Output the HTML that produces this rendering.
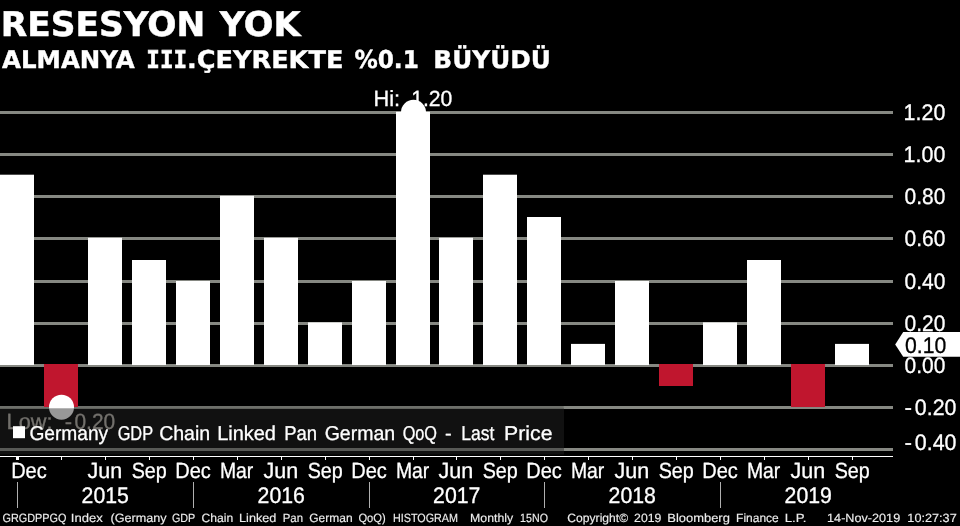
<!DOCTYPE html>
<html lang="tr"><head><meta charset="utf-8"><title>RESESYON YOK</title>
<style>
html,body{margin:0;padding:0;background:#000;}
body{width:960px;height:526px;overflow:hidden;}
svg{display:block}
text{white-space:pre;text-rendering:geometricPrecision}
svg{will-change:transform}
</style></head><body>
<svg width="960" height="526" viewBox="0 0 960 526">
<rect width="960" height="526" fill="#000"/>
<rect x="0" y="111" width="893" height="3" fill="#868882"/>
<rect x="0" y="153" width="893" height="3" fill="#868882"/>
<rect x="0" y="195" width="893" height="3" fill="#868882"/>
<rect x="0" y="237" width="893" height="3" fill="#868882"/>
<rect x="0" y="280" width="893" height="3" fill="#868882"/>
<rect x="0" y="322" width="893" height="3" fill="#868882"/>
<rect x="0" y="364" width="893" height="3" fill="#868882"/>
<rect x="0" y="406" width="893" height="3" fill="#868882"/>
<rect x="0" y="448" width="893" height="3" fill="#868882"/>
<rect x="0" y="406" width="563.7" height="2.3" fill="#000" fill-opacity="0.18"/>
<text x="0.72" y="36.0" textLength="204.62" lengthAdjust="spacingAndGlyphs" style="font:bold 34px 'DejaVu Sans',sans-serif;fill:#fff;stroke:#fff;stroke-width:0.5px">RESESYON</text>
<text x="219.78" y="36.0" textLength="80.78" lengthAdjust="spacingAndGlyphs" style="font:bold 34px 'DejaVu Sans',sans-serif;fill:#fff;stroke:#fff;stroke-width:0.5px">YOK</text>
<text x="2.10" y="68.3" textLength="132.46" lengthAdjust="spacingAndGlyphs" style="font:bold 24.5px 'DejaVu Sans',sans-serif;fill:#fff;stroke:#fff;stroke-width:0.4px">ALMANYA</text>
<text x="146.36" y="68.3" textLength="40.75" lengthAdjust="spacingAndGlyphs" style="font:bold 24.5px 'DejaVu Sans Mono',sans-serif;fill:#fff;stroke:#fff;stroke-width:0.6px">III</text>
<text x="186.91" y="68.3" textLength="156.50" lengthAdjust="spacingAndGlyphs" style="font:bold 24.5px 'DejaVu Sans',sans-serif;fill:#fff;stroke:#fff;stroke-width:0.4px">.ÇEYREKTE</text>
<text x="354.40" y="68.3" textLength="64.49" lengthAdjust="spacingAndGlyphs" style="font:bold 24.5px 'DejaVu Sans',sans-serif;fill:#fff;stroke:#fff;stroke-width:0.4px">%0.1</text>
<text x="433.38" y="68.3" textLength="117.43" lengthAdjust="spacingAndGlyphs" style="font:bold 24.5px 'DejaVu Sans',sans-serif;fill:#fff;stroke:#fff;stroke-width:0.4px">BÜYÜDÜ</text>
<text x="373.56" y="105.7" textLength="26.59" lengthAdjust="spacingAndGlyphs" style="font:22px 'Liberation Sans',sans-serif;fill:#fff;stroke:#fff;stroke-width:0.3px">Hi:</text>
<text x="411.19" y="105.7" textLength="41.19" lengthAdjust="spacingAndGlyphs" style="font:22px 'Liberation Sans',sans-serif;fill:#fff;stroke:#fff;stroke-width:0.3px">1.20</text>
<text x="6.56" y="429.4" textLength="45.89" lengthAdjust="spacingAndGlyphs" style="font:22px 'Liberation Sans',sans-serif;fill:#b8b4ac;stroke:#b8b4ac;stroke-width:0.3px">Low:</text>
<text x="64.80" y="429.4" style="font:22px 'Liberation Sans',sans-serif;fill:#b8b4ac;stroke:#b8b4ac;stroke-width:0.3px">-</text>
<text x="74.45" y="429.4" textLength="40.72" lengthAdjust="spacingAndGlyphs" style="font:22px 'Liberation Sans',sans-serif;fill:#b8b4ac;stroke:#b8b4ac;stroke-width:0.3px">0.20</text>
<rect x="0" y="174.7" width="34" height="190.3" fill="#fff"/>
<rect x="44" y="364" width="34" height="43.0" fill="#c0162e"/>
<rect x="88" y="237.8" width="34" height="127.2" fill="#fff"/>
<rect x="132" y="260.0" width="34" height="105.0" fill="#fff"/>
<rect x="176" y="281.0" width="34" height="84.0" fill="#fff"/>
<rect x="220" y="195.8" width="34" height="169.2" fill="#fff"/>
<rect x="264" y="237.8" width="34" height="127.2" fill="#fff"/>
<rect x="308" y="322.4" width="34" height="42.6" fill="#fff"/>
<rect x="352" y="281.0" width="34" height="84.0" fill="#fff"/>
<rect x="396" y="111.8" width="34" height="253.2" fill="#fff"/>
<rect x="439" y="237.8" width="34" height="127.2" fill="#fff"/>
<rect x="483" y="174.7" width="34" height="190.3" fill="#fff"/>
<rect x="527" y="217.0" width="34" height="148.0" fill="#fff"/>
<rect x="571" y="343.9" width="34" height="21.1" fill="#fff"/>
<rect x="615" y="281.0" width="34" height="84.0" fill="#fff"/>
<rect x="659" y="364" width="34" height="22.0" fill="#c0162e"/>
<rect x="703" y="322.4" width="34" height="42.6" fill="#fff"/>
<rect x="747" y="260.0" width="34" height="105.0" fill="#fff"/>
<rect x="791" y="364" width="34" height="43.0" fill="#c0162e"/>
<rect x="835" y="343.9" width="34" height="21.1" fill="#fff"/>
<circle cx="413.5" cy="112.3" r="12.5" fill="#fff"/>
<circle cx="61.5" cy="407.2" r="12.5" fill="#fff"/>
<rect x="0" y="408.3" width="564" height="46.2" fill="#242424" fill-opacity="0.47"/>
<rect x="13" y="426.2" width="12" height="12" fill="#fff"/>
<polygon points="895.2,344.4 903.2,332 960,332 960,356.8 903.2,356.8" fill="#fff"/>
<rect x="0" y="456" width="893" height="1" fill="#fff"/>
<rect x="16" y="456" width="3" height="4" fill="#fff"/>
<rect x="61" y="457" width="1" height="3" fill="#fff"/>
<rect x="105" y="457" width="1" height="3" fill="#fff"/>
<rect x="149" y="457" width="1" height="3" fill="#fff"/>
<rect x="193" y="457" width="1" height="3" fill="#fff"/>
<rect x="237" y="457" width="1" height="3" fill="#fff"/>
<rect x="281" y="457" width="1" height="3" fill="#fff"/>
<rect x="325" y="457" width="1" height="3" fill="#fff"/>
<rect x="369" y="457" width="1" height="3" fill="#fff"/>
<rect x="413" y="457" width="1" height="3" fill="#fff"/>
<rect x="456" y="457" width="1" height="3" fill="#fff"/>
<rect x="500" y="457" width="1" height="3" fill="#fff"/>
<rect x="544" y="457" width="1" height="3" fill="#fff"/>
<rect x="588" y="457" width="1" height="3" fill="#fff"/>
<rect x="632" y="457" width="1" height="3" fill="#fff"/>
<rect x="676" y="457" width="1" height="3" fill="#fff"/>
<rect x="720" y="457" width="1" height="3" fill="#fff"/>
<rect x="764" y="457" width="1" height="3" fill="#fff"/>
<rect x="808" y="457" width="1" height="3" fill="#fff"/>
<rect x="852" y="457" width="1" height="3" fill="#fff"/>
<rect x="17" y="482" width="1" height="26" fill="#b0b0b0"/>
<rect x="193" y="482" width="1" height="26" fill="#b0b0b0"/>
<rect x="369" y="482" width="1" height="26" fill="#b0b0b0"/>
<rect x="544" y="482" width="1" height="26" fill="#b0b0b0"/>
<rect x="720" y="482" width="1" height="26" fill="#b0b0b0"/>
<text x="29.39" y="440.1" textLength="78.76" lengthAdjust="spacingAndGlyphs" style="font:20px 'Liberation Sans',sans-serif;fill:#fff;stroke:#fff;stroke-width:0.3px">Germany</text>
<text x="117.63" y="440.1" textLength="35.50" lengthAdjust="spacingAndGlyphs" style="font:20px 'Liberation Sans',sans-serif;fill:#fff;stroke:#fff;stroke-width:0.3px">GDP</text>
<text x="159.17" y="440.1" textLength="51.02" lengthAdjust="spacingAndGlyphs" style="font:20px 'Liberation Sans',sans-serif;fill:#fff;stroke:#fff;stroke-width:0.3px">Chain</text>
<text x="217.15" y="440.1" textLength="58.82" lengthAdjust="spacingAndGlyphs" style="font:20px 'Liberation Sans',sans-serif;fill:#fff;stroke:#fff;stroke-width:0.3px">Linked</text>
<text x="284.23" y="440.1" textLength="32.91" lengthAdjust="spacingAndGlyphs" style="font:20px 'Liberation Sans',sans-serif;fill:#fff;stroke:#fff;stroke-width:0.3px">Pan</text>
<text x="324.67" y="440.1" textLength="70.52" lengthAdjust="spacingAndGlyphs" style="font:20px 'Liberation Sans',sans-serif;fill:#fff;stroke:#fff;stroke-width:0.3px">German</text>
<text x="402.65" y="440.1" textLength="34.40" lengthAdjust="spacingAndGlyphs" style="font:20px 'Liberation Sans',sans-serif;fill:#fff;stroke:#fff;stroke-width:0.3px">QoQ</text>
<text x="445.00" y="440.1" style="font:20px 'Liberation Sans',sans-serif;fill:#fff;stroke:#fff;stroke-width:0.3px">-</text>
<text x="461.27" y="440.1" textLength="33.19" lengthAdjust="spacingAndGlyphs" style="font:20px 'Liberation Sans',sans-serif;fill:#fff;stroke:#fff;stroke-width:0.3px">Last</text>
<text x="504.09" y="440.1" textLength="48.39" lengthAdjust="spacingAndGlyphs" style="font:20px 'Liberation Sans',sans-serif;fill:#fff;stroke:#fff;stroke-width:0.3px">Price</text>
<text x="2.58" y="522.0" textLength="63.90" lengthAdjust="spacingAndGlyphs" style="font:12px 'Liberation Sans',sans-serif;fill:#ececec;stroke:#ececec;stroke-width:0.15px">GRGDPPGQ</text>
<text x="70.88" y="522.0" textLength="32.04" lengthAdjust="spacingAndGlyphs" style="font:12px 'Liberation Sans',sans-serif;fill:#ececec;stroke:#ececec;stroke-width:0.15px">Index</text>
<text x="110.48" y="522.0" textLength="56.15" lengthAdjust="spacingAndGlyphs" style="font:12px 'Liberation Sans',sans-serif;fill:#ececec;stroke:#ececec;stroke-width:0.15px">(Germany</text>
<text x="171.97" y="522.0" textLength="23.35" lengthAdjust="spacingAndGlyphs" style="font:12px 'Liberation Sans',sans-serif;fill:#ececec;stroke:#ececec;stroke-width:0.15px">GDP</text>
<text x="201.57" y="522.0" textLength="31.73" lengthAdjust="spacingAndGlyphs" style="font:12px 'Liberation Sans',sans-serif;fill:#ececec;stroke:#ececec;stroke-width:0.15px">Chain</text>
<text x="239.07" y="522.0" textLength="37.36" lengthAdjust="spacingAndGlyphs" style="font:12px 'Liberation Sans',sans-serif;fill:#ececec;stroke:#ececec;stroke-width:0.15px">Linked</text>
<text x="282.77" y="522.0" textLength="20.29" lengthAdjust="spacingAndGlyphs" style="font:12px 'Liberation Sans',sans-serif;fill:#ececec;stroke:#ececec;stroke-width:0.15px">Pan</text>
<text x="309.27" y="522.0" textLength="43.32" lengthAdjust="spacingAndGlyphs" style="font:12px 'Liberation Sans',sans-serif;fill:#ececec;stroke:#ececec;stroke-width:0.15px">German</text>
<text x="358.38" y="522.0" textLength="27.35" lengthAdjust="spacingAndGlyphs" style="font:12px 'Liberation Sans',sans-serif;fill:#ececec;stroke:#ececec;stroke-width:0.15px">QoQ)</text>
<text x="392.97" y="522.0" textLength="65.05" lengthAdjust="spacingAndGlyphs" style="font:12px 'Liberation Sans',sans-serif;fill:#ececec;stroke:#ececec;stroke-width:0.15px">HISTOGRAM</text>
<text x="470.07" y="522.0" textLength="43.15" lengthAdjust="spacingAndGlyphs" style="font:12px 'Liberation Sans',sans-serif;fill:#ececec;stroke:#ececec;stroke-width:0.15px">Monthly</text>
<text x="520.08" y="522.0" textLength="27.85" lengthAdjust="spacingAndGlyphs" style="font:12px 'Liberation Sans',sans-serif;fill:#ececec;stroke:#ececec;stroke-width:0.15px">15NO</text>
<text x="567.38" y="522.0" textLength="60.69" lengthAdjust="spacingAndGlyphs" style="font:12px 'Liberation Sans',sans-serif;fill:#ececec;stroke:#ececec;stroke-width:0.15px">Copyright©</text>
<text x="634.08" y="522.0" textLength="27.22" lengthAdjust="spacingAndGlyphs" style="font:12px 'Liberation Sans',sans-serif;fill:#ececec;stroke:#ececec;stroke-width:0.15px">2019</text>
<text x="667.38" y="522.0" textLength="62.48" lengthAdjust="spacingAndGlyphs" style="font:12px 'Liberation Sans',sans-serif;fill:#ececec;stroke:#ececec;stroke-width:0.15px">Bloomberg</text>
<text x="736.08" y="522.0" textLength="42.62" lengthAdjust="spacingAndGlyphs" style="font:12px 'Liberation Sans',sans-serif;fill:#ececec;stroke:#ececec;stroke-width:0.15px">Finance</text>
<text x="784.68" y="522.0" textLength="21.82" lengthAdjust="spacingAndGlyphs" style="font:12px 'Liberation Sans',sans-serif;fill:#ececec;stroke:#ececec;stroke-width:0.15px">L.P.</text>
<text x="827.08" y="522.0" textLength="73.11" lengthAdjust="spacingAndGlyphs" style="font:12px 'Liberation Sans',sans-serif;fill:#ececec;stroke:#ececec;stroke-width:0.15px">14-Nov-2019</text>
<text x="907.38" y="522.0" textLength="49.31" lengthAdjust="spacingAndGlyphs" style="font:12px 'Liberation Sans',sans-serif;fill:#ececec;stroke:#ececec;stroke-width:0.15px">10:27:37</text>
<text x="11.14" y="477.8" textLength="35.61" lengthAdjust="spacingAndGlyphs" style="font:22px 'Liberation Sans',sans-serif;fill:#fff;stroke:#fff;stroke-width:0.3px">Dec</text>
<text x="87.58" y="477.8" textLength="34.66" lengthAdjust="spacingAndGlyphs" style="font:22px 'Liberation Sans',sans-serif;fill:#fff;stroke:#fff;stroke-width:0.3px">Jun</text>
<text x="131.63" y="477.8" textLength="35.06" lengthAdjust="spacingAndGlyphs" style="font:22px 'Liberation Sans',sans-serif;fill:#fff;stroke:#fff;stroke-width:0.3px">Sep</text>
<text x="175.24" y="477.8" textLength="35.61" lengthAdjust="spacingAndGlyphs" style="font:22px 'Liberation Sans',sans-serif;fill:#fff;stroke:#fff;stroke-width:0.3px">Dec</text>
<text x="219.92" y="477.8" textLength="33.37" lengthAdjust="spacingAndGlyphs" style="font:22px 'Liberation Sans',sans-serif;fill:#fff;stroke:#fff;stroke-width:0.3px">Mar</text>
<text x="263.57" y="477.8" textLength="34.66" lengthAdjust="spacingAndGlyphs" style="font:22px 'Liberation Sans',sans-serif;fill:#fff;stroke:#fff;stroke-width:0.3px">Jun</text>
<text x="307.63" y="477.8" textLength="35.06" lengthAdjust="spacingAndGlyphs" style="font:22px 'Liberation Sans',sans-serif;fill:#fff;stroke:#fff;stroke-width:0.3px">Sep</text>
<text x="351.24" y="477.8" textLength="35.61" lengthAdjust="spacingAndGlyphs" style="font:22px 'Liberation Sans',sans-serif;fill:#fff;stroke:#fff;stroke-width:0.3px">Dec</text>
<text x="395.92" y="477.8" textLength="33.37" lengthAdjust="spacingAndGlyphs" style="font:22px 'Liberation Sans',sans-serif;fill:#fff;stroke:#fff;stroke-width:0.3px">Mar</text>
<text x="438.57" y="477.8" textLength="34.66" lengthAdjust="spacingAndGlyphs" style="font:22px 'Liberation Sans',sans-serif;fill:#fff;stroke:#fff;stroke-width:0.3px">Jun</text>
<text x="482.63" y="477.8" textLength="35.06" lengthAdjust="spacingAndGlyphs" style="font:22px 'Liberation Sans',sans-serif;fill:#fff;stroke:#fff;stroke-width:0.3px">Sep</text>
<text x="526.24" y="477.8" textLength="35.61" lengthAdjust="spacingAndGlyphs" style="font:22px 'Liberation Sans',sans-serif;fill:#fff;stroke:#fff;stroke-width:0.3px">Dec</text>
<text x="570.92" y="477.8" textLength="33.37" lengthAdjust="spacingAndGlyphs" style="font:22px 'Liberation Sans',sans-serif;fill:#fff;stroke:#fff;stroke-width:0.3px">Mar</text>
<text x="614.57" y="477.8" textLength="34.66" lengthAdjust="spacingAndGlyphs" style="font:22px 'Liberation Sans',sans-serif;fill:#fff;stroke:#fff;stroke-width:0.3px">Jun</text>
<text x="658.63" y="477.8" textLength="35.06" lengthAdjust="spacingAndGlyphs" style="font:22px 'Liberation Sans',sans-serif;fill:#fff;stroke:#fff;stroke-width:0.3px">Sep</text>
<text x="702.24" y="477.8" textLength="35.61" lengthAdjust="spacingAndGlyphs" style="font:22px 'Liberation Sans',sans-serif;fill:#fff;stroke:#fff;stroke-width:0.3px">Dec</text>
<text x="746.92" y="477.8" textLength="33.37" lengthAdjust="spacingAndGlyphs" style="font:22px 'Liberation Sans',sans-serif;fill:#fff;stroke:#fff;stroke-width:0.3px">Mar</text>
<text x="790.57" y="477.8" textLength="34.66" lengthAdjust="spacingAndGlyphs" style="font:22px 'Liberation Sans',sans-serif;fill:#fff;stroke:#fff;stroke-width:0.3px">Jun</text>
<text x="834.63" y="477.8" textLength="35.06" lengthAdjust="spacingAndGlyphs" style="font:22px 'Liberation Sans',sans-serif;fill:#fff;stroke:#fff;stroke-width:0.3px">Sep</text>
<text x="81.60" y="503.0" textLength="47.33" lengthAdjust="spacingAndGlyphs" style="font:22.5px 'Liberation Sans',sans-serif;fill:#fff;stroke:#fff;stroke-width:0.3px">2015</text>
<text x="257.60" y="503.0" textLength="47.33" lengthAdjust="spacingAndGlyphs" style="font:22.5px 'Liberation Sans',sans-serif;fill:#fff;stroke:#fff;stroke-width:0.3px">2016</text>
<text x="433.10" y="503.0" textLength="47.33" lengthAdjust="spacingAndGlyphs" style="font:22.5px 'Liberation Sans',sans-serif;fill:#fff;stroke:#fff;stroke-width:0.3px">2017</text>
<text x="608.60" y="503.0" textLength="47.33" lengthAdjust="spacingAndGlyphs" style="font:22.5px 'Liberation Sans',sans-serif;fill:#fff;stroke:#fff;stroke-width:0.3px">2018</text>
<text x="784.60" y="503.0" textLength="47.33" lengthAdjust="spacingAndGlyphs" style="font:22.5px 'Liberation Sans',sans-serif;fill:#fff;stroke:#fff;stroke-width:0.3px">2019</text>
<text x="903.60" y="119.9" textLength="41.74" lengthAdjust="spacingAndGlyphs" style="font:22.5px 'Liberation Sans',sans-serif;fill:#fff;stroke:#fff;stroke-width:0.3px">1.20</text>
<text x="903.60" y="161.9" textLength="41.74" lengthAdjust="spacingAndGlyphs" style="font:22.5px 'Liberation Sans',sans-serif;fill:#fff;stroke:#fff;stroke-width:0.3px">1.00</text>
<text x="904.55" y="203.9" textLength="40.78" lengthAdjust="spacingAndGlyphs" style="font:22.5px 'Liberation Sans',sans-serif;fill:#fff;stroke:#fff;stroke-width:0.3px">0.80</text>
<text x="904.55" y="245.9" textLength="40.78" lengthAdjust="spacingAndGlyphs" style="font:22.5px 'Liberation Sans',sans-serif;fill:#fff;stroke:#fff;stroke-width:0.3px">0.60</text>
<text x="904.55" y="288.9" textLength="40.78" lengthAdjust="spacingAndGlyphs" style="font:22.5px 'Liberation Sans',sans-serif;fill:#fff;stroke:#fff;stroke-width:0.3px">0.40</text>
<text x="904.55" y="330.9" textLength="40.78" lengthAdjust="spacingAndGlyphs" style="font:22.5px 'Liberation Sans',sans-serif;fill:#fff;stroke:#fff;stroke-width:0.3px">0.20</text>
<text x="904.55" y="372.9" textLength="40.78" lengthAdjust="spacingAndGlyphs" style="font:22.5px 'Liberation Sans',sans-serif;fill:#fff;stroke:#fff;stroke-width:0.3px">0.00</text>
<text x="904.40" y="414.9" style="font:22.5px 'Liberation Sans',sans-serif;fill:#fff;stroke:#fff;stroke-width:0.3px">-</text>
<text x="914.85" y="414.9" textLength="41.59" lengthAdjust="spacingAndGlyphs" style="font:22.5px 'Liberation Sans',sans-serif;fill:#fff;stroke:#fff;stroke-width:0.3px">0.20</text>
<text x="904.40" y="449.6" style="font:22.5px 'Liberation Sans',sans-serif;fill:#fff;stroke:#fff;stroke-width:0.3px">-</text>
<text x="914.85" y="449.6" textLength="41.59" lengthAdjust="spacingAndGlyphs" style="font:22.5px 'Liberation Sans',sans-serif;fill:#fff;stroke:#fff;stroke-width:0.3px">0.40</text>
<text x="905.05" y="353.0" textLength="41.28" lengthAdjust="spacingAndGlyphs" style="font:22.5px 'Liberation Sans',sans-serif;fill:#000;stroke:#000;stroke-width:0.3px">0.10</text>
</svg></body></html>
